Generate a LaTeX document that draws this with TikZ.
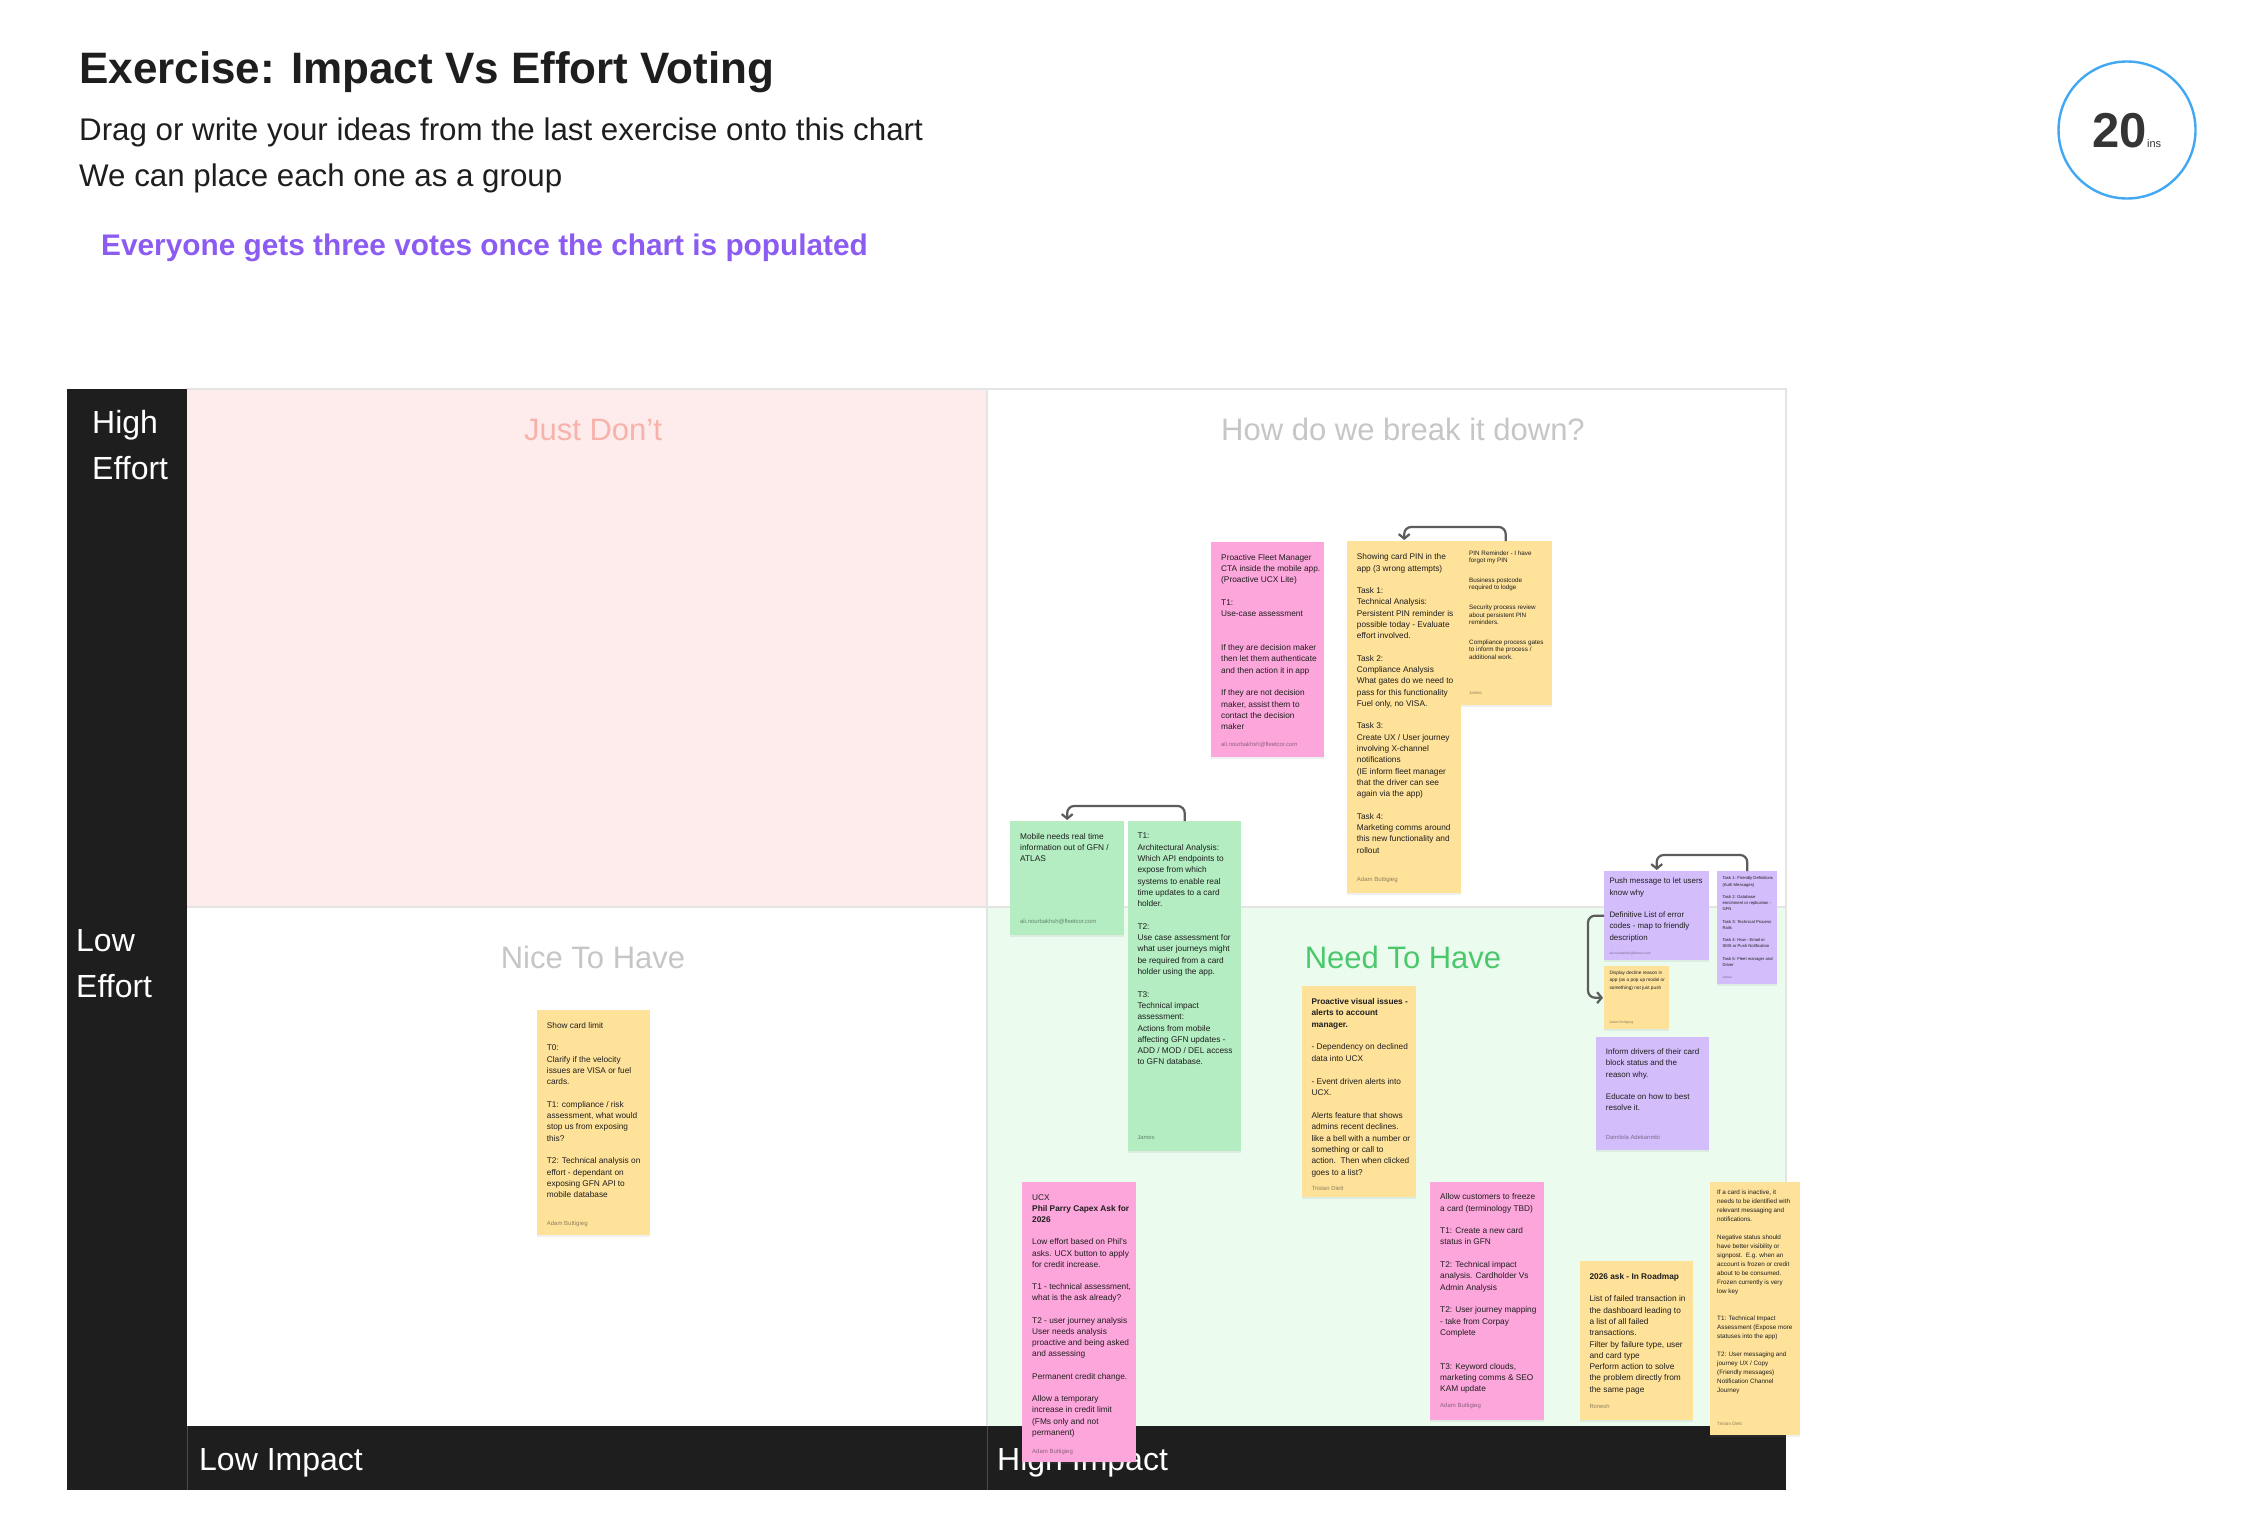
\documentclass[tikz,border=0pt]{standalone}
\usepackage{fontspec}
\setmainfont{Liberation Sans}
\usetikzlibrary{arrows.meta,shadows}
\definecolor{ink}{HTML}{1E1E1E}
\definecolor{barblack}{HTML}{1E1E1E}
\definecolor{gridc}{HTML}{E4E4E4}
\definecolor{barline}{HTML}{4A4A4A}
\definecolor{quadpink}{HTML}{FEEBEB}
\definecolor{quadgreen}{HTML}{EBFCEF}
\definecolor{titlepink}{HTML}{F8B2AC}
\definecolor{titlegray}{HTML}{C6C6C6}
\definecolor{titlegreen}{HTML}{4CC86C}
\definecolor{votepurple}{HTML}{8C5CF2}
\definecolor{timerblue}{HTML}{42A8F4}
\definecolor{notepink}{HTML}{FDA6DC}
\definecolor{noteyellow}{HTML}{FFE29A}
\definecolor{notegreen}{HTML}{B3EDC1}
\definecolor{notepurple}{HTML}{D3BDFB}
\definecolor{linkc}{HTML}{5C5C5C}

\begin{document}
\begin{tikzpicture}[x=1pt,y=-1pt]
\tikzstyle{every node}+=[inner sep=0pt]
\tikzstyle{note}=[rectangle, anchor=north west, drop shadow={shadow xshift=0pt,shadow yshift=-1.5pt,opacity=0.12}]
\tikzstyle{txt}=[anchor=north west, align=left, text=ink, font=\fontsize{8.3}{11.3}\selectfont]
\tikzstyle{foot}=[anchor=base west, text=ink, text opacity=0.5, font=\fontsize{6}{7}\selectfont]
\tikzstyle{link}=[draw=linkc, line width=2.2pt, rounded corners=7pt, shorten >=1pt, -{Straight Barb[length=4.5pt,width=11pt]}]
\tikzstyle{quad}=[anchor=base, font=\fontsize{31}{36}\selectfont]
\tikzstyle{axis}=[anchor=base west, text=white, font=\fontsize{32}{36}\selectfont]

\useasboundingbox (0,0) rectangle (2242,1522);
\fill[white] (0,0) rectangle (2242,1522);

% header
\node[anchor=base west, text=ink, font=\fontsize{44}{50}\selectfont\bfseries] (title) at (79,84) {Exercise: Impact Vs Effort Voting};
\node[anchor=base west, text=ink, font=\fontsize{31.3}{36}\selectfont] (sub1) at (79,141) {Drag or write your ideas from the last exercise onto this chart};
\node[anchor=base west, text=ink, font=\fontsize{31.3}{36}\selectfont] (sub2) at (79,187) {We can place each one as a group};
\node[anchor=base west, text=votepurple, font=\fontsize{29.8}{36}\selectfont\bfseries] (votes) at (101,256) {Everyone gets three votes once the chart is populated};
\node[circle, draw=timerblue, line width=2.4pt, minimum size=137] (timer) at (2127,130) {};
\node[anchor=base west, text=ink!90, font=\fontsize{49}{50}\selectfont\bfseries] (mins) at (2092,148) {20};
\node[anchor=base west, text=ink!90, font=\fontsize{11}{12}\selectfont] (minsunit) at (mins.base east) {ins};

% chart
\fill[quadpink] (187,389) rectangle (987,907);
\fill[quadgreen] (987,907) rectangle (1786,1426);
\draw[gridc, line width=1.2pt] (187,389) -- (1786,389) -- (1786,1426);
\draw[gridc, line width=1.2pt] (987,389) -- (987,1426);
\draw[gridc, line width=1.2pt] (187,907) -- (1786,907);
\fill[barblack] (67,389) rectangle (187,1490);
\fill[barblack] (67,1426) rectangle (1786,1490);
\draw[barline, line width=1pt] (187,1426) -- (187,1490);
\draw[barline, line width=1pt] (987,1426) -- (987,1490);

\node[quad, text=titlepink] (dont) at (593,440) {Just Don't};
\node[quad, text=titlegray] (breakdown) at (1403,440) {How do we break it down?};
\node[quad, text=titlegray] (nice) at (593,968) {Nice To Have};
\node[quad, text=titlegreen] (need) at (1403,968) {Need To Have};

\node[axis] (higheff) at (92,433) {High};
\node[axis] (higheff2) at (92,479) {Effort};
\node[axis] (loweff) at (76,951) {Low};
\node[axis] (loweff2) at (76,997) {Effort};
\node[axis] (lowimp) at (199,1470) {Low Impact};
\node[axis] (highimp) at (997,1470) {High Impact};

% notes
\node[note, fill=notepink, minimum width=113, minimum height=215] (fleet) at (1211,542) {};
\node[txt] (fleettxt) at ([shift={(10,12)}]fleet.north west) {Proactive Fleet Manager\\ CTA inside the mobile app.\\ (Proactive UCX Lite)\\[11.3pt] T1:\\ Use-case assessment\\[22.6pt] If they are decision maker\\ then let them authenticate\\ and then action it in app\\[11.3pt] If they are not decision\\ maker, assist them to\\ contact the decision\\ maker};
\node[foot, font=\fontsize{5.9}{7}\selectfont] (fleetfoot) at ([shift={(10,-11.3)}]fleet.south west) {ali.nourbakhsh@fleetcor.com};

\node[note, fill=noteyellow, minimum width=93, minimum height=164] (pinrem) at (1459,541) {};
\node[txt, font=\fontsize{6.3}{7.3}\selectfont] (pinremtxt) at ([shift={(10,9.5)}]pinrem.north west) {PIN Reminder - I have\\ forgot my PIN\\[12.7pt] Business postcode\\ required to lodge\\[12.7pt] Security process review\\ about persistent PIN\\ reminders.\\[12.7pt] Compliance process gates\\ to inform the process /\\ additional work.};
\node[foot, font=\fontsize{4.3}{5}\selectfont] (pinremfoot) at ([shift={(10,-10.7)}]pinrem.south west) {James};

\node[note, fill=noteyellow, minimum width=114, minimum height=352] (pin) at (1347,541) {};
\node[txt] (pintxt) at ([shift={(9.7,12.5)}]pin.north west) {Showing card PIN in the\\ app (3 wrong attempts)\\[11.2pt] Task 1:\\ Technical Analysis:\\ Persistent PIN reminder is\\ possible today - Evaluate\\ effort involved.\\[11.2pt] Task 2:\\ Compliance Analysis\\ What gates do we need to\\ pass for this functionality\\ Fuel only, no VISA.\\[11.2pt] Task 3:\\ Create UX / User journey\\ involving X-channel\\ notifications\\ (IE inform fleet manager\\ that the driver can see\\ again via the app)\\[11.2pt] Task 4:\\ Marketing comms around\\ this new functionality and\\ rollout};
\node[foot] (pinfoot) at ([shift={(9.7,-11.6)}]pin.south west) {Adam Buttigieg};

\node[note, fill=notegreen, minimum width=114, minimum height=114] (mobile) at (1010,821) {};
\node[txt] (mobiletxt) at ([shift={(10,12)}]mobile.north west) {Mobile needs real time\\ information out of GFN /\\ ATLAS};
\node[foot, font=\fontsize{5.9}{7}\selectfont] (mobilefoot) at ([shift={(10,-12)}]mobile.south west) {ali.nourbakhsh@fleetcor.com};

\node[note, fill=notegreen, minimum width=113, minimum height=330] (arch) at (1128,821) {};
\node[txt] (archtxt) at ([shift={(9.3,12)}]arch.north west) {T1:\\ Architectural Analysis:\\ Which API endpoints to\\ expose from which\\ systems to enable real\\ time updates to a card\\ holder.\\[11.3pt] T2:\\ Use case assessment for\\ what user journeys might\\ be required from a card\\ holder using the app.\\[11.3pt] T3:\\ Technical impact\\ assessment:\\ Actions from mobile\\ affecting GFN updates -\\ ADD / MOD / DEL access\\ to GFN database.};
\node[foot, font=\fontsize{5.8}{7}\selectfont] (archfoot) at ([shift={(9.3,-12.3)}]arch.south west) {James};

\node[note, fill=notepurple, minimum width=105, minimum height=89] (push) at (1604,871) {};
\node[txt, font=\fontsize{7.9}{11.3}\selectfont] (pushtxt) at ([shift={(5.3,6.8)}]push.north west) {Push message to let users\\ know why\\[11.3pt] Definitive List of error\\ codes - map to friendly\\ description};
\node[foot, font=\fontsize{3.2}{4}\selectfont] (pushfoot) at ([shift={(5.3,-5.7)}]push.south west) {ali.nourbakhsh@fleetcor.com};

\node[note, fill=notepurple, minimum width=60, minimum height=113] (tasks) at (1717,871) {};
\node[txt, font=\fontsize{4.2}{6.2}\selectfont] (taskstxt) at ([shift={(5.3,5.7)}]tasks.north west) {Task 1: Friendly Definitions\\ (Auth Messages)\\[6.1pt] Task 2: Database\\ enrichment or replication -\\ GFN\\[6.1pt] Task 3: Technical Process\\ Rails\\[6.1pt] Task 4: How - Email or\\ SMS or Push Notification\\[6.1pt] Task 5: Fleet manager and\\ Driver};
\node[foot, font=\fontsize{3.2}{4}\selectfont] (tasksfoot) at ([shift={(5.3,-5.5)}]tasks.south west) {James};

\node[note, fill=noteyellow, minimum width=65, minimum height=63] (decline) at (1604,966) {};
\node[txt, font=\fontsize{4.75}{7.2}\selectfont] (declinetxt) at ([shift={(5.3,5)}]decline.north west) {Display decline reason in\\ app (as a pop up modal or\\ something) not just push};
\node[foot, font=\fontsize{3.5}{4}\selectfont] (declinefoot) at ([shift={(5.3,-5.8)}]decline.south west) {Adam Buttigieg};

\node[note, fill=notepurple, minimum width=113, minimum height=113] (inform) at (1596,1037) {};
\node[txt, font=\fontsize{8}{11.3}\selectfont] (informtxt) at ([shift={(9.7,11.4)}]inform.north west) {Inform drivers of their card\\ block status and the\\ reason why.\\[11.3pt] Educate on how to best\\ resolve it.};
\node[foot, font=\fontsize{5.9}{7}\selectfont] (informfoot) at ([shift={(9.7,-10.8)}]inform.south west) {Damilola Adekanmbi};

\node[note, fill=noteyellow, minimum width=113, minimum height=225] (limit) at (537,1010) {};
\node[txt] (limittxt) at ([shift={(9.7,12)}]limit.north west) {Show card limit\\[11.3pt] T0:\\ Clarify if the velocity\\ issues are VISA or fuel\\ cards.\\[11.3pt] T1: compliance / risk\\ assessment, what would\\ stop us from exposing\\ this?\\[11.3pt] T2: Technical analysis on\\ effort - dependant on\\ exposing GFN API to\\ mobile database};
\node[foot] (limitfoot) at ([shift={(9.7,-9.6)}]limit.south west) {Adam Buttigieg};

\node[note, fill=notepink, minimum width=114, minimum height=280] (capex) at (1022,1182) {};
\node[txt, font=\fontsize{8.3}{11.2}\selectfont] (capextxt) at ([shift={(10,12)}]capex.north west) {UCX\\ \textbf{Phil Parry Capex Ask for}\\ \textbf{2026}\\[11.2pt] Low effort based on Phil's\\ asks. UCX button to apply\\ for credit increase.\\[11.2pt] T1 - technical assessment,\\ what is the ask already?\\[11.2pt] T2 - user journey analysis\\ User needs analysis\\ proactive and being asked\\ and assessing\\[11.2pt] Permanent credit change.\\[11.2pt] Allow a temporary\\ increase in credit limit\\ (FMs only and not\\ permanent)};
\node[foot] (capexfoot) at ([shift={(10,-9)}]capex.south west) {Adam Buttigieg};

\node[note, fill=noteyellow, minimum width=114, minimum height=211] (alerts) at (1302,986) {};
\node[txt, font=\fontsize{8.3}{11.4}\selectfont] (alertstxt) at ([shift={(9.3,12)}]alerts.north west) {\textbf{Proactive visual issues -}\\ \textbf{alerts to account}\\ \textbf{manager.}\\[11.4pt] - Dependency on declined\\ data into UCX\\[11.4pt] - Event driven alerts into\\ UCX.\\[11.4pt] Alerts feature that shows\\ admins recent declines.\\ like a bell with a number or\\ something or call to\\ action.\ \ Then when clicked\\ goes to a list?};
\node[foot] (alertsfoot) at ([shift={(9.3,-6.6)}]alerts.south west) {Tristan Diett};

\node[note, fill=notepink, minimum width=114, minimum height=238] (freeze) at (1430,1182) {};
\node[txt] (freezetxt) at ([shift={(10,11.5)}]freeze.north west) {Allow customers to freeze\\ a card (terminology TBD)\\[11.3pt] T1: Create a new card\\ status in GFN\\[11.3pt] T2: Technical impact\\ analysis. Cardholder Vs\\ Admin Analysis\\[11.3pt] T2: User journey mapping\\ - take from Corpay\\ Complete\\[22.6pt] T3: Keyword clouds,\\ marketing comms \& SEO\\ KAM update};
\node[foot] (freezefoot) at ([shift={(10,-12.6)}]freeze.south west) {Adam Buttigieg};

\node[note, fill=noteyellow, minimum width=113, minimum height=159] (roadmap) at (1580,1261) {};
\node[txt] (roadmaptxt) at ([shift={(9.3,12)}]roadmap.north west) {\textbf{2026 ask - In Roadmap}\\[11.3pt] List of failed transaction in\\ the dashboard leading to\\ a list of all failed\\ transactions.\\ Filter by failure type, user\\ and card type\\ Perform action to solve\\ the problem directly from\\ the same page};
\node[foot, font=\fontsize{5.8}{7}\selectfont] (roadmapfoot) at ([shift={(9.3,-12)}]roadmap.south west) {Ronesh};

\node[note, fill=noteyellow, minimum width=90, minimum height=253] (inactive) at (1710,1182) {};
\node[txt, font=\fontsize{6.3}{9}\selectfont] (inactivetxt) at ([shift={(7,7.7)}]inactive.north west) {If a card is inactive, it\\ needs to be identified with\\ relevant messaging and\\ notifications.\\[9pt] Negative status should\\ have better visibility or\\ signpost.\ \ E.g. when an\\ account is frozen or credit\\ about to be consumed.\\ Frozen currently is very\\ low key\\[18pt] T1: Technical Impact\\ Assessment (Expose more\\ statuses into the app)\\[9pt] T2: User messaging and\\ journey UX / Copy\\ (Friendly messages)\\ Notification Channel\\ Journey};
\node[foot, font=\fontsize{4.6}{5}\selectfont] (inactivefoot) at ([shift={(7,-9.7)}]inactive.south west) {Tristan Diett};

% links
\draw[link] (pinrem.north) -- ++(0,-14) -| (pin.north);
\draw[link] (arch.north) -- ++(0,-15) -| (mobile.north);
\draw[link] (tasks.north) -- ++(0,-16) -| (push.north);
\draw[link] (push.west) -- ++(-16,0) |- (decline.west);
\end{tikzpicture}
\end{document}
